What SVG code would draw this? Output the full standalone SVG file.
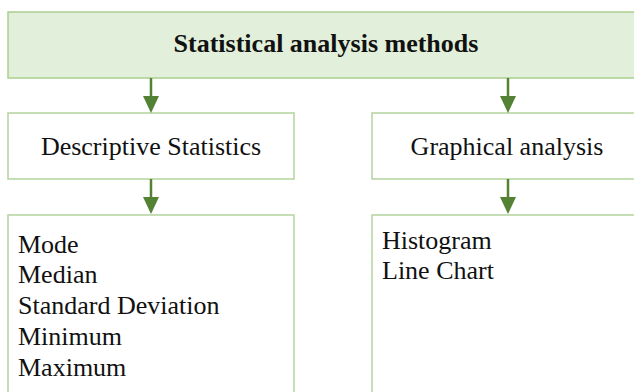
<svg xmlns="http://www.w3.org/2000/svg" width="634" height="392" viewBox="0 0 634 392">
<defs>
<style>
.box{fill:#ffffff;stroke:#b4d49d;stroke-width:1.5}
.top{fill:#e2efda;stroke:#a9d08e;stroke-width:1.5}
.t{font-family:"Liberation Serif","Times New Roman",serif;font-size:26px;fill:#111}
.b{font-weight:bold;font-size:26px}
.c{text-anchor:middle}
.conn line{stroke:#548235;stroke-width:2.5}
.conn path{fill:#548235}
</style>
</defs>
<rect width="634" height="392" fill="#ffffff"/>
<g id="root">
<rect class="top" x="8" y="12" width="640" height="66"/>
<text class="t b c" x="326" y="52">Statistical analysis methods</text>
</g>
<g id="descriptive">
<rect class="box" x="8" y="113" width="286" height="66"/>
<text class="t c" x="151" y="155">Descriptive Statistics</text>
</g>
<g id="graphical">
<rect class="box" x="372" y="113" width="280" height="66"/>
<text class="t c" x="507" y="155">Graphical analysis</text>
</g>
<g id="descriptive-list">
<rect class="box" x="8" y="215" width="286" height="190"/>
<text class="t" x="18" y="253">Mode</text>
<text class="t" x="18" y="283">Median</text>
<text class="t" x="18" y="314">Standard Deviation</text>
<text class="t" x="18" y="345">Minimum</text>
<text class="t" x="18" y="376">Maximum</text>
</g>
<g id="graphical-list">
<rect class="box" x="372" y="215" width="280" height="190"/>
<text class="t" x="382" y="249">Histogram</text>
<text class="t" x="382" y="279">Line Chart</text>
</g>
<g class="conn" id="connectors">
<line x1="151" y1="78" x2="151" y2="98"/>
<path d="M143,96 L159,96 L151,113 Z"/>
<line x1="508" y1="78" x2="508" y2="98"/>
<path d="M500,96 L516,96 L508,113 Z"/>
<line x1="151" y1="179" x2="151" y2="199"/>
<path d="M143,197 L159,197 L151,214 Z"/>
<line x1="508" y1="179" x2="508" y2="199"/>
<path d="M500,197 L516,197 L508,214 Z"/>
</g>
</svg>
